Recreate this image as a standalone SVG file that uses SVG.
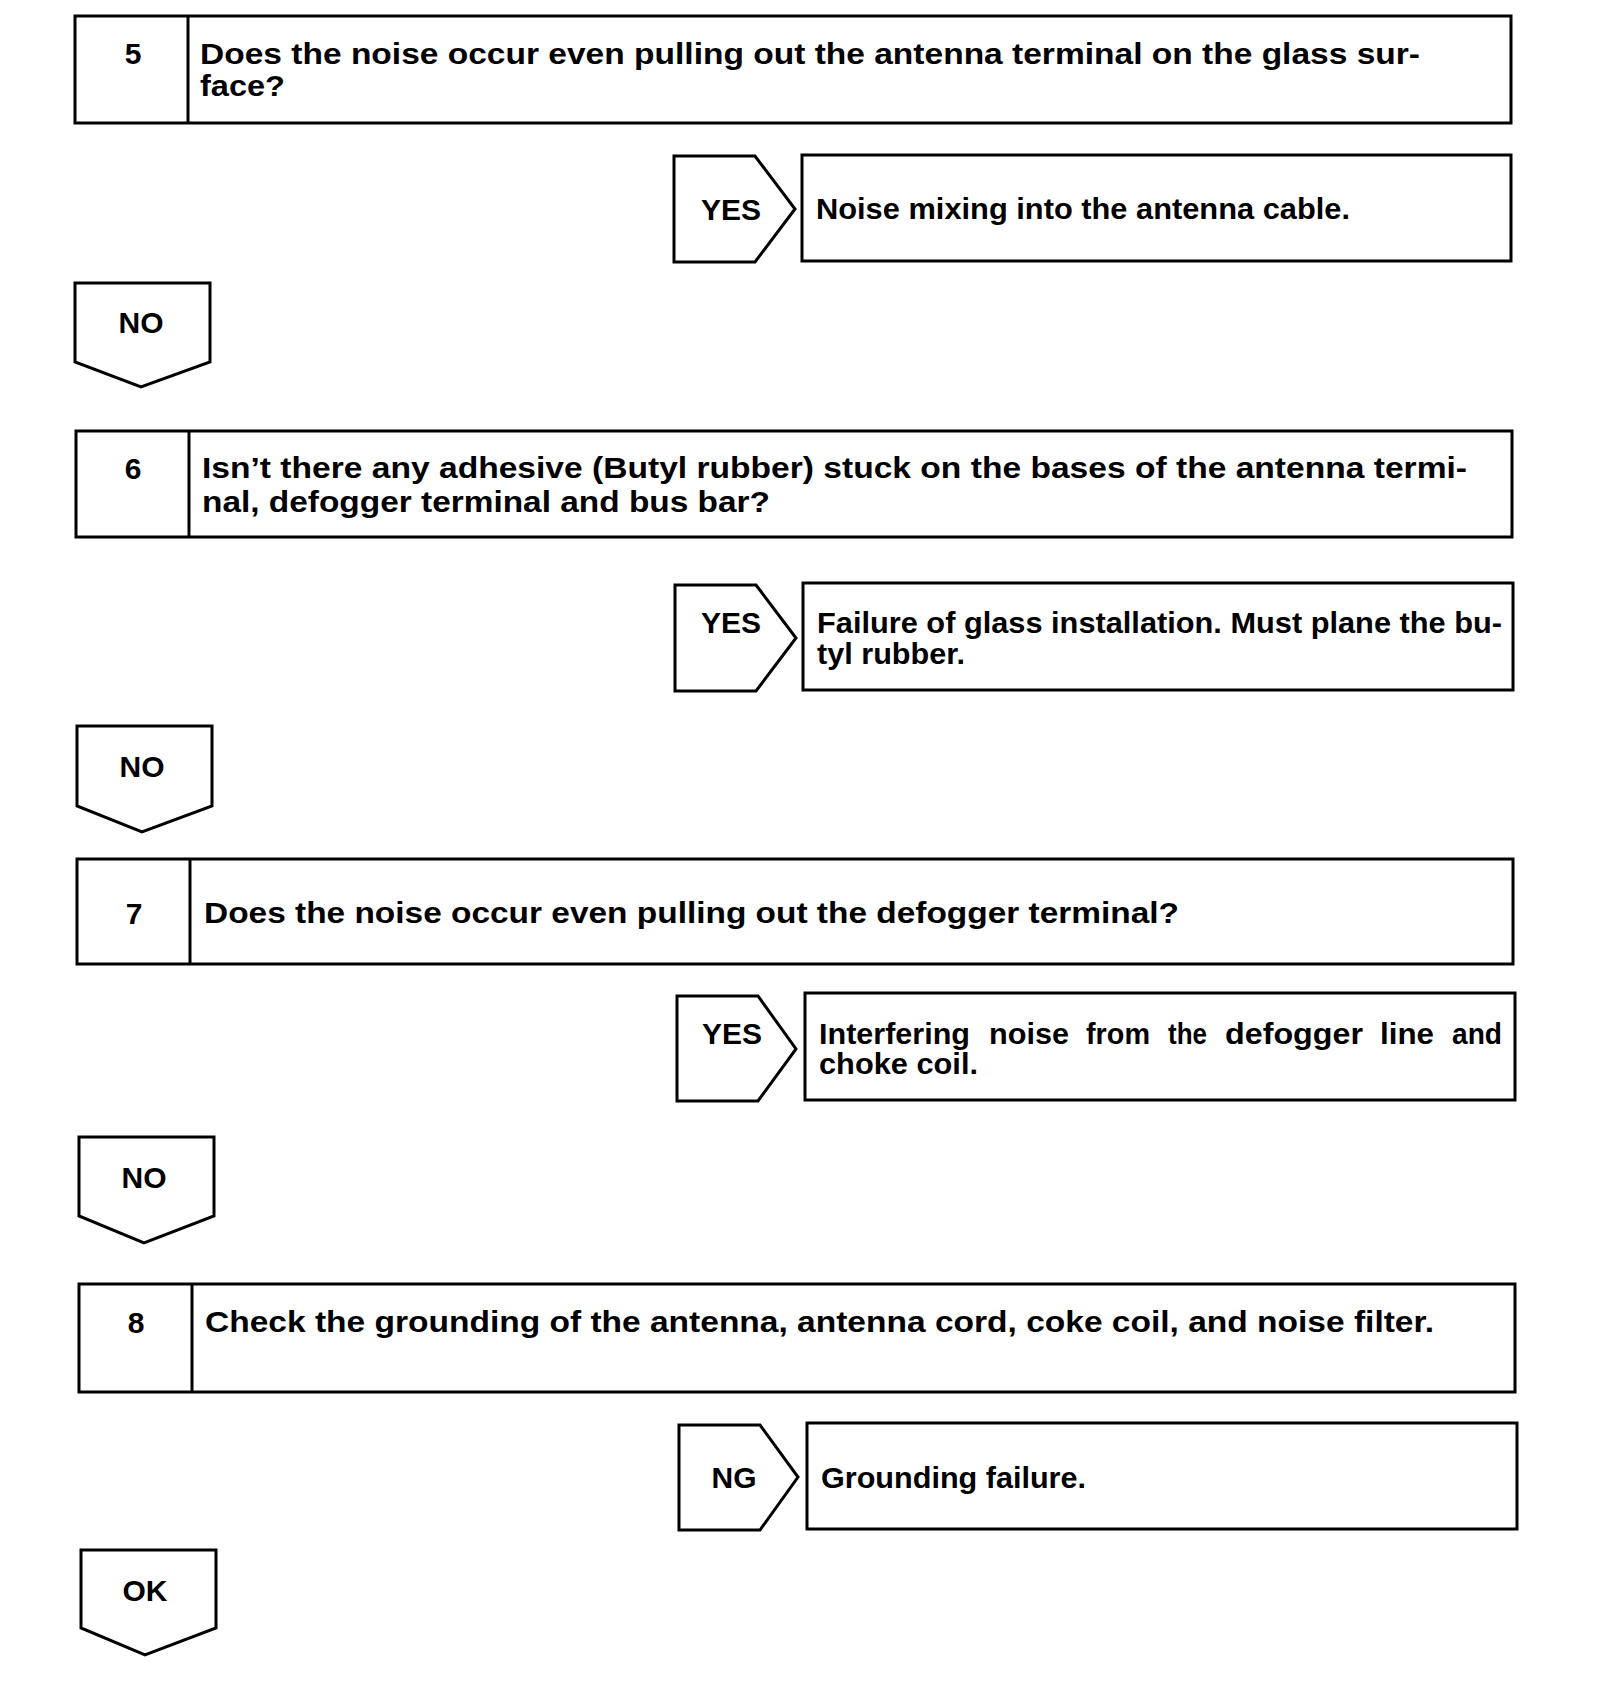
<svg xmlns="http://www.w3.org/2000/svg" width="1600" height="1696" viewBox="0 0 1600 1696">
<style>
.bx{fill:#fff;stroke:#000;stroke-width:3;stroke-linejoin:miter}
.ln{stroke:#000;stroke-width:3}
text{font-family:"Liberation Sans",Arial,Helvetica,sans-serif;font-weight:bold;font-size:30px;fill:#000}
.c{text-anchor:middle}
</style>
<rect width="1600" height="1696" fill="#fff"/>

<g id="step5">
<rect class="bx" x="75" y="16" width="1436" height="107"/>
<line class="ln" x1="188" y1="16" x2="188" y2="123"/>
<text class="c" x="133" y="64">5</text>
<text x="200" y="64" textLength="1220" lengthAdjust="spacingAndGlyphs">Does the noise occur even pulling out the antenna terminal on the glass sur-</text>
<text x="200" y="96" textLength="85" lengthAdjust="spacingAndGlyphs">face?</text>
</g>
<g id="yes5">
<polygon class="bx" points="674,156 755,156 795,209 755,262 674,262"/>
<text class="c" x="731" y="220">YES</text>
</g>
<g id="result5">
<rect class="bx" x="802" y="155" width="709" height="106"/>
<text x="816" y="219" textLength="534" lengthAdjust="spacingAndGlyphs">Noise mixing into the antenna cable.</text>
</g>
<g id="no5">
<polygon class="bx" points="75,283 210,283 210,362 141,387 75,362"/>
<text class="c" x="141" y="333">NO</text>
</g>

<g id="step6">
<rect class="bx" x="76" y="431" width="1436" height="106"/>
<line class="ln" x1="189" y1="431" x2="189" y2="537"/>
<text class="c" x="133" y="479">6</text>
<text x="202" y="478" textLength="1265" lengthAdjust="spacingAndGlyphs">Isn’t there any adhesive (Butyl rubber) stuck on the bases of the antenna termi-</text>
<text x="202" y="512" textLength="568" lengthAdjust="spacingAndGlyphs">nal, defogger terminal and bus bar?</text>
</g>
<g id="yes6">
<polygon class="bx" points="675,585 756,585 796,638 756,691 675,691"/>
<text class="c" x="731" y="633">YES</text>
</g>
<g id="result6">
<rect class="bx" x="803" y="583" width="710" height="107"/>
<text x="817" y="633" textLength="685" lengthAdjust="spacingAndGlyphs">Failure of glass installation. Must plane the bu-</text>
<text x="817" y="664" textLength="148" lengthAdjust="spacingAndGlyphs">tyl rubber.</text>
</g>
<g id="no6">
<polygon class="bx" points="77,726 212,726 212,806 142,832 77,806"/>
<text class="c" x="142" y="777">NO</text>
</g>

<g id="step7">
<rect class="bx" x="77" y="859" width="1436" height="105"/>
<line class="ln" x1="190" y1="859" x2="190" y2="964"/>
<text class="c" x="134" y="924">7</text>
<text x="204" y="923" textLength="975" lengthAdjust="spacingAndGlyphs">Does the noise occur even pulling out the defogger terminal?</text>
</g>
<g id="yes7">
<polygon class="bx" points="677,996 758,996 796,1049 758,1101 677,1101"/>
<text class="c" x="732" y="1044">YES</text>
</g>
<g id="result7">
<rect class="bx" x="805" y="993" width="710" height="107"/>
<text y="1044"><tspan x="819" textLength="151" lengthAdjust="spacingAndGlyphs">Interfering</tspan><tspan x="989" textLength="80" lengthAdjust="spacingAndGlyphs">noise</tspan><tspan x="1086" textLength="64" lengthAdjust="spacingAndGlyphs">from</tspan><tspan x="1168" textLength="39" lengthAdjust="spacingAndGlyphs">the</tspan><tspan x="1225" textLength="138" lengthAdjust="spacingAndGlyphs">defogger</tspan><tspan x="1380" textLength="54" lengthAdjust="spacingAndGlyphs">line</tspan><tspan x="1452" textLength="50" lengthAdjust="spacingAndGlyphs">and</tspan></text>
<text x="819" y="1074" textLength="159" lengthAdjust="spacingAndGlyphs">choke coil.</text>
</g>
<g id="no7">
<polygon class="bx" points="79,1137 214,1137 214,1216 144,1243 79,1216"/>
<text class="c" x="144" y="1188">NO</text>
</g>

<g id="step8">
<rect class="bx" x="79" y="1284" width="1436" height="108"/>
<line class="ln" x1="192" y1="1284" x2="192" y2="1392"/>
<text class="c" x="136" y="1333">8</text>
<text x="205" y="1332" textLength="1229" lengthAdjust="spacingAndGlyphs">Check the grounding of the antenna, antenna cord, coke coil, and noise filter.</text>
</g>
<g id="ng8">
<polygon class="bx" points="679,1425 760,1425 798,1477 760,1530 679,1530"/>
<text class="c" x="734" y="1488">NG</text>
</g>
<g id="result8">
<rect class="bx" x="807" y="1423" width="710" height="106"/>
<text x="821" y="1488" textLength="265" lengthAdjust="spacingAndGlyphs">Grounding failure.</text>
</g>
<g id="ok8">
<polygon class="bx" points="81,1550 216,1550 216,1628 145,1655 81,1628"/>
<text class="c" x="145" y="1601">OK</text>
</g>

<g id="connectors"></g>
</svg>
